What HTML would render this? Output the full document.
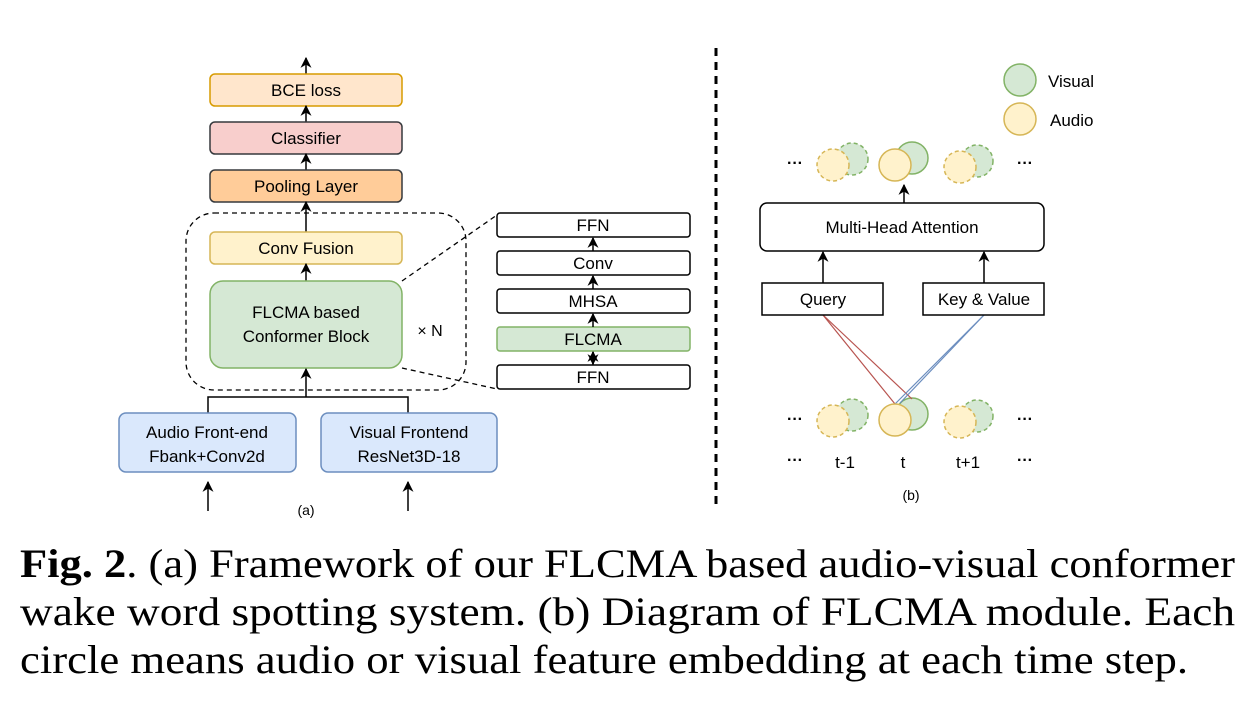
<!DOCTYPE html>
<html><head><meta charset="utf-8"><style>
html,body{margin:0;padding:0;background:#fff;}
svg{display:block}
</style></head><body>
<svg width="1253" height="702" viewBox="0 0 1253 702" xmlns="http://www.w3.org/2000/svg" font-family="Liberation Sans, Arial, sans-serif">
<defs>
<marker id="ah" viewBox="0 0 10 10" refX="9" refY="5" markerWidth="11" markerHeight="11" markerUnits="userSpaceOnUse" orient="auto"><path d="M0,0 L10,5 L0,10 L3,5 z" fill="#000"/></marker>
</defs>
<g font-size="17" text-anchor="middle" fill="#000">
<line x1="306" y1="74" x2="306" y2="58" stroke="#000" stroke-width="1.5" marker-end="url(#ah)"/>
<rect x="210" y="74" width="192" height="32" rx="5" fill="#ffe6cc" stroke="#d79b00" stroke-width="1.5"/>
<text x="306" y="96">BCE loss</text>
<line x1="306" y1="122" x2="306" y2="106" stroke="#000" stroke-width="1.5" marker-end="url(#ah)"/>
<rect x="210" y="122" width="192" height="32" rx="5" fill="#f8cecc" stroke="#36393d" stroke-width="1.5"/>
<text x="306" y="144">Classifier</text>
<line x1="306" y1="170" x2="306" y2="154" stroke="#000" stroke-width="1.5" marker-end="url(#ah)"/>
<rect x="210" y="170" width="192" height="32" rx="5" fill="#ffcc99" stroke="#36393d" stroke-width="1.5"/>
<text x="306" y="192">Pooling Layer</text>
<rect x="186" y="213" width="280" height="177" rx="28" fill="none" stroke="#000" stroke-width="1.3" stroke-dasharray="5,4"/>
<line x1="306" y1="232" x2="306" y2="202" stroke="#000" stroke-width="1.5" marker-end="url(#ah)"/>
<rect x="210" y="232" width="192" height="32" rx="5" fill="#fff2cc" stroke="#d6b656" stroke-width="1.5"/>
<text x="306" y="254">Conv Fusion</text>
<line x1="306" y1="281" x2="306" y2="264" stroke="#000" stroke-width="1.5" marker-end="url(#ah)"/>
<rect x="210" y="281" width="192" height="87" rx="13" fill="#d5e8d4" stroke="#82b366" stroke-width="1.5"/>
<text x="306" y="318">FLCMA based</text>
<text x="306" y="342">Conformer Block</text>
<text x="430" y="336" font-size="16">× N</text>
<line x1="402" y1="281" x2="497" y2="215" stroke="#000" stroke-width="1.3" stroke-dasharray="5,4"/>
<line x1="402" y1="368" x2="497" y2="389" stroke="#000" stroke-width="1.3" stroke-dasharray="5,4"/>
<polyline points="208,413 208,397 408,397 408,413" fill="none" stroke="#000" stroke-width="1.5"/>
<line x1="306" y1="397" x2="306" y2="369" stroke="#000" stroke-width="1.5" marker-end="url(#ah)"/>
<rect x="119" y="413" width="177" height="59" rx="7" fill="#dae8fc" stroke="#6c8ebf" stroke-width="1.5"/>
<text x="207" y="438">Audio Front-end</text>
<text x="207" y="462">Fbank+Conv2d</text>
<rect x="321" y="413" width="176" height="59" rx="7" fill="#dae8fc" stroke="#6c8ebf" stroke-width="1.5"/>
<text x="409" y="438">Visual Frontend</text>
<text x="409" y="462">ResNet3D-18</text>
<line x1="208" y1="511" x2="208" y2="482" stroke="#000" stroke-width="1.5" marker-end="url(#ah)"/>
<line x1="408" y1="511" x2="408" y2="482" stroke="#000" stroke-width="1.5" marker-end="url(#ah)"/>
<text x="306" y="515" font-size="14">(a)</text>
<g stroke="#000" stroke-width="1.5">
<rect x="497" y="213" width="193" height="24" rx="3" fill="#fff"/>
<rect x="497" y="251" width="193" height="24" rx="3" fill="#fff"/>
<rect x="497" y="289" width="193" height="24" rx="3" fill="#fff"/>
<rect x="497" y="327" width="193" height="24" rx="3" fill="#d5e8d4" stroke="#82b366"/>
<rect x="497" y="365" width="193" height="24" rx="3" fill="#fff"/>
<line x1="593" y1="251" x2="593" y2="238" marker-end="url(#ah)"/>
<line x1="593" y1="289" x2="593" y2="276" marker-end="url(#ah)"/>
<line x1="593" y1="327" x2="593" y2="314" marker-end="url(#ah)"/>
<line x1="593" y1="365" x2="593" y2="352" marker-end="url(#ah)"/>
<line x1="593" y1="352" x2="593" y2="364" marker-end="url(#ah)"/>
</g>
<text x="593" y="231">FFN</text>
<text x="593" y="269">Conv</text>
<text x="593" y="307">MHSA</text>
<text x="593" y="345">FLCMA</text>
<text x="593" y="383">FFN</text>
<line x1="716" y1="48" x2="716" y2="505" stroke="#000" stroke-width="3" stroke-dasharray="8,6"/>
<circle cx="1020" cy="80" r="16" fill="#d5e8d4" stroke="#82b366" stroke-width="1.5"/>
<circle cx="1020" cy="119" r="16" fill="#fff2cc" stroke="#d6b656" stroke-width="1.5"/>
<text x="1048" y="87" text-anchor="start">Visual</text>
<text x="1050" y="126" text-anchor="start">Audio</text>
<g stroke-width="1.5">
<circle cx="852" cy="159" r="16" fill="#d5e8d4" stroke="#82b366" stroke-dasharray="4,3"/>
<circle cx="833" cy="165" r="16" fill="#fff2cc" stroke="#d6b656" stroke-dasharray="4,3"/>
<circle cx="912" cy="158" r="16" fill="#d5e8d4" stroke="#82b366"/>
<circle cx="895" cy="165" r="16" fill="#fff2cc" stroke="#d6b656"/>
<circle cx="977" cy="161" r="16" fill="#d5e8d4" stroke="#82b366" stroke-dasharray="4,3"/>
<circle cx="960" cy="167" r="16" fill="#fff2cc" stroke="#d6b656" stroke-dasharray="4,3"/>
<circle cx="852" cy="415" r="16" fill="#d5e8d4" stroke="#82b366" stroke-dasharray="4,3"/>
<circle cx="833" cy="421" r="16" fill="#fff2cc" stroke="#d6b656" stroke-dasharray="4,3"/>
<circle cx="977" cy="416" r="16" fill="#d5e8d4" stroke="#82b366" stroke-dasharray="4,3"/>
<circle cx="960" cy="422" r="16" fill="#fff2cc" stroke="#d6b656" stroke-dasharray="4,3"/>
<circle cx="912" cy="414" r="16" fill="#d5e8d4" stroke="#82b366"/>
</g>
<line x1="823" y1="315" x2="895" y2="404" stroke="#b85450" stroke-width="1.2"/>
<line x1="823" y1="315" x2="912" y2="399" stroke="#b85450" stroke-width="1.2"/>
<line x1="984" y1="315" x2="895" y2="404" stroke="#6c8ebf" stroke-width="1.2"/>
<line x1="984" y1="315" x2="900" y2="403" stroke="#6c8ebf" stroke-width="1.2"/>
<circle cx="895" cy="420" r="16" fill="#fff2cc" stroke="#d6b656" stroke-width="1.5"/>
<g font-weight="bold" font-size="16">
<text x="795" y="168">···</text><text x="1025" y="168">···</text>
<text x="795" y="424">···</text><text x="1025" y="424">···</text>
<text x="795" y="465">···</text><text x="1025" y="465">···</text>
</g>
<text x="845" y="468">t-1</text>
<text x="903" y="468">t</text>
<text x="968" y="468">t+1</text>
<text x="911" y="500" font-size="14">(b)</text>
<line x1="904" y1="203" x2="904" y2="185" stroke="#000" stroke-width="1.5" marker-end="url(#ah)"/>
<rect x="760" y="203" width="284" height="48" rx="7" fill="#fff" stroke="#000" stroke-width="1.5"/>
<text x="902" y="233">Multi-Head Attention</text>
<line x1="823" y1="283" x2="823" y2="252" stroke="#000" stroke-width="1.5" marker-end="url(#ah)"/>
<line x1="984" y1="283" x2="984" y2="252" stroke="#000" stroke-width="1.5" marker-end="url(#ah)"/>
<rect x="762" y="283" width="121" height="32" fill="#fff" stroke="#000" stroke-width="1.5"/>
<text x="823" y="305">Query</text>
<rect x="923" y="283" width="121" height="32" fill="#fff" stroke="#000" stroke-width="1.5"/>
<text x="984" y="305">Key &amp; Value</text>
</g>
<g font-family="Liberation Serif, Times New Roman, serif" font-size="40" fill="#000">
<text x="20" y="577" textLength="1215" lengthAdjust="spacingAndGlyphs"><tspan font-weight="bold">Fig. 2</tspan>. (a) Framework of our FLCMA based audio-visual conformer</text>
<text x="20" y="625" textLength="1215" lengthAdjust="spacingAndGlyphs">wake word spotting system. (b) Diagram of FLCMA module. Each</text>
<text x="20" y="673" textLength="1168" lengthAdjust="spacingAndGlyphs">circle means audio or visual feature embedding at each time step.</text>
</g>
</svg>
</body></html>
